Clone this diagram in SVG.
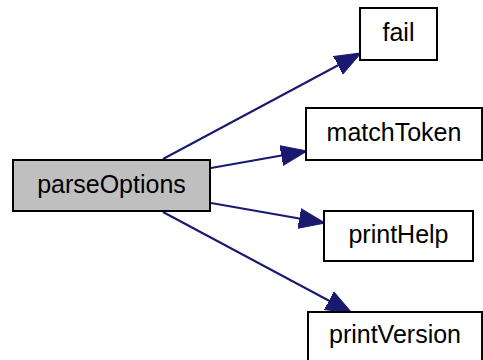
<svg xmlns="http://www.w3.org/2000/svg" width="483" height="360" viewBox="0 0 483 360">
<style>
.box{fill:#ffffff;stroke:#000000;stroke-width:2}
.cur{fill:#bfbfbf;stroke:#000000;stroke-width:2}
.lbl{font-family:"Liberation Sans",Arial,Helvetica,sans-serif;font-size:25px;text-anchor:middle;fill:#000000}
.edge{fill:none;stroke:#191970;stroke-width:2}
</style>
<defs>
<marker id="ah" markerUnits="userSpaceOnUse" markerWidth="28" markerHeight="22" refX="26" refY="11" orient="auto">
<polygon points="0,1 26,11 0,21" fill="#191970" stroke="#191970" stroke-width="1"/>
</marker>
</defs>
<rect width="483" height="360" fill="#ffffff"/>
<g id="edges">
<line class="edge" x1="163" y1="159" x2="361" y2="53" marker-end="url(#ah)"/>
<line class="edge" x1="211" y1="168" x2="307" y2="151" marker-end="url(#ah)"/>
<line class="edge" x1="211" y1="203" x2="325" y2="223" marker-end="url(#ah)"/>
<line class="edge" x1="163" y1="212" x2="352" y2="313" marker-end="url(#ah)"/>
</g>
<g id="parseOptions">
<rect class="cur" x="13" y="160" width="197" height="51"/>
<text class="lbl" x="111.5" y="193">parseOptions</text>
</g>
<g id="fail">
<rect class="box" x="360" y="8" width="77" height="52"/>
<text class="lbl" x="398.5" y="41">fail</text>
</g>
<g id="matchToken">
<rect class="box" x="306" y="108" width="176" height="52"/>
<text class="lbl" x="394" y="141">matchToken</text>
</g>
<g id="printHelp">
<rect class="box" x="324" y="211" width="149" height="50"/>
<text class="lbl" x="398.5" y="243">printHelp</text>
</g>
<g id="printVersion">
<rect class="box" x="308" y="312" width="174" height="52"/>
<text class="lbl" x="395" y="343">printVersion</text>
</g>
</svg>
